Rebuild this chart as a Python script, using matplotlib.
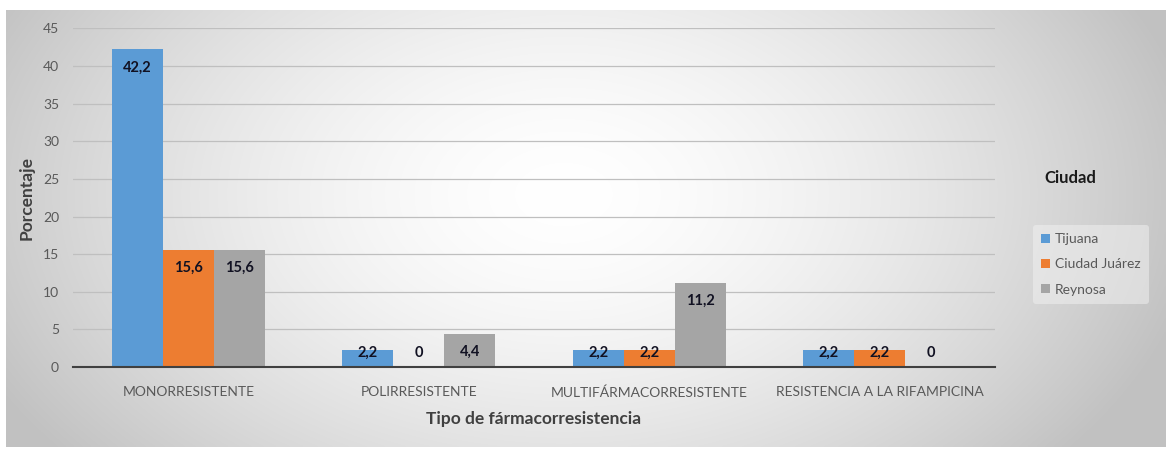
import numpy as np
import matplotlib
matplotlib.use("Agg")
import matplotlib.pyplot as plt
from matplotlib.patches import Patch

categories = ["MONORRESISTENTE", "POLIRRESISTENTE", "MULTIFÁRMACORRESISTENTE", "RESISTENCIA A LA RIFAMPICINA"]
series_names = ["Tijuana", "Ciudad Juárez", "Reynosa"]
tijuana = [42.2, 2.2, 2.2, 2.2]
juarez = [15.6, 0, 2.2, 2.2]
reynosa = [15.6, 4.4, 11.2, 0]
value_labels = [["42,2", "2,2", "2,2", "2,2"],
                ["15,6", "0", "2,2", "2,2"],
                ["15,6", "4,4", "11,2", "0"]]
yticks = [0, 5, 10, 15, 20, 25, 30, 35, 40, 45]

colors = ["#5B9BD5", "#ED7D31", "#A5A5A5"]
plt.rcParams['font.family'] = ['Lato', 'DejaVu Sans']

W, H = 1172, 449
fig = plt.figure(figsize=(W / 100, H / 100), dpi=100)
fig.patch.set_facecolor("white")

# background gradient
bg = fig.add_axes([6 / W, 2 / H, 1160 / W, 437 / H], zorder=0)
ny, nx = 200, 500
yy, xx = np.mgrid[0:ny, 0:nx]
cx, cy = nx * 0.48, ny * 0.42
r = np.sqrt(((xx - cx) / (nx * 0.55)) ** 2 + ((yy - cy) / (ny * 0.95)) ** 2)
r = np.clip(r, 0, 1)
val = 1.0 - 0.24 * r ** 1.6
img = np.dstack([val, val, val])
bg.imshow(img, aspect="auto", extent=[0, 1, 0, 1], interpolation="bilinear")
bg.set_axis_off()

ax = fig.add_axes([73 / W, (449 - 367) / H, 922 / W, 338.6 / H], zorder=1)
ax.patch.set_alpha(0)

x = np.arange(len(categories))
bw = 0.221
all_series = [tijuana, juarez, reynosa]
for i, (vals, c, name) in enumerate(zip(all_series, colors, series_names)):
    pos = x + (i - 1) * bw
    ax.bar(pos, vals, width=bw, color=c, label=name, zorder=3)
    for p, v, lab in zip(pos, vals, value_labels[i]):
        ly = max(v - 2.4, 1.9)
        ax.text(p, ly, lab, ha="center", va="center", fontsize=10.5,
                fontweight="bold", color="#111122", zorder=4)

ax.set_xlim(-0.5, len(categories) - 0.5)
ax.set_ylim(0, 45)
ax.set_yticks(yticks)
ax.set_yticklabels([str(t) for t in yticks], fontsize=10, color="#595959")
ax.set_xticks(x)
ax.set_xticklabels(categories, fontsize=10, color="#595959")
ax.tick_params(axis="both", length=0)
ax.tick_params(axis="y", pad=10)
ax.tick_params(axis="x", pad=14)
ax.grid(axis="y", color="#bfbfbf", linewidth=0.9, zorder=0)
for s in ["top", "right", "left"]:
    ax.spines[s].set_visible(False)
ax.spines["bottom"].set_color("#404040")
ax.spines["bottom"].set_linewidth(1.5)
ax.spines["bottom"].set_zorder(5)

ax.set_xlabel("Tipo de fármacorresistencia", fontsize=12.5, fontweight="bold",
              color="#404040", labelpad=9)
ax.set_ylabel("Porcentaje", fontsize=12.5, fontweight="bold", color="#404040",
              labelpad=6)

handles = [Patch(facecolor=c, label=n) for c, n in zip(colors, series_names)]
fig.text(1044 / W, 1 - 178 / H, "Ciudad", fontsize=12, fontweight="bold",
         color="#1a1a1a", va="center", ha="left")
leg = fig.legend(handles=handles, loc="upper left",
                 bbox_to_anchor=(1026 / W, 1 - 218 / H), frameon=True,
                 fontsize=10, handlelength=0.6, handleheight=0.6,
                 handletextpad=0.4, labelspacing=0.95, borderpad=0.6,
                 labelcolor="#595959")
leg.get_frame().set_facecolor("#f2f2f2")
leg.get_frame().set_edgecolor("none")
leg.get_frame().set_alpha(0.5)

fig.savefig("out.png", dpi=100)
